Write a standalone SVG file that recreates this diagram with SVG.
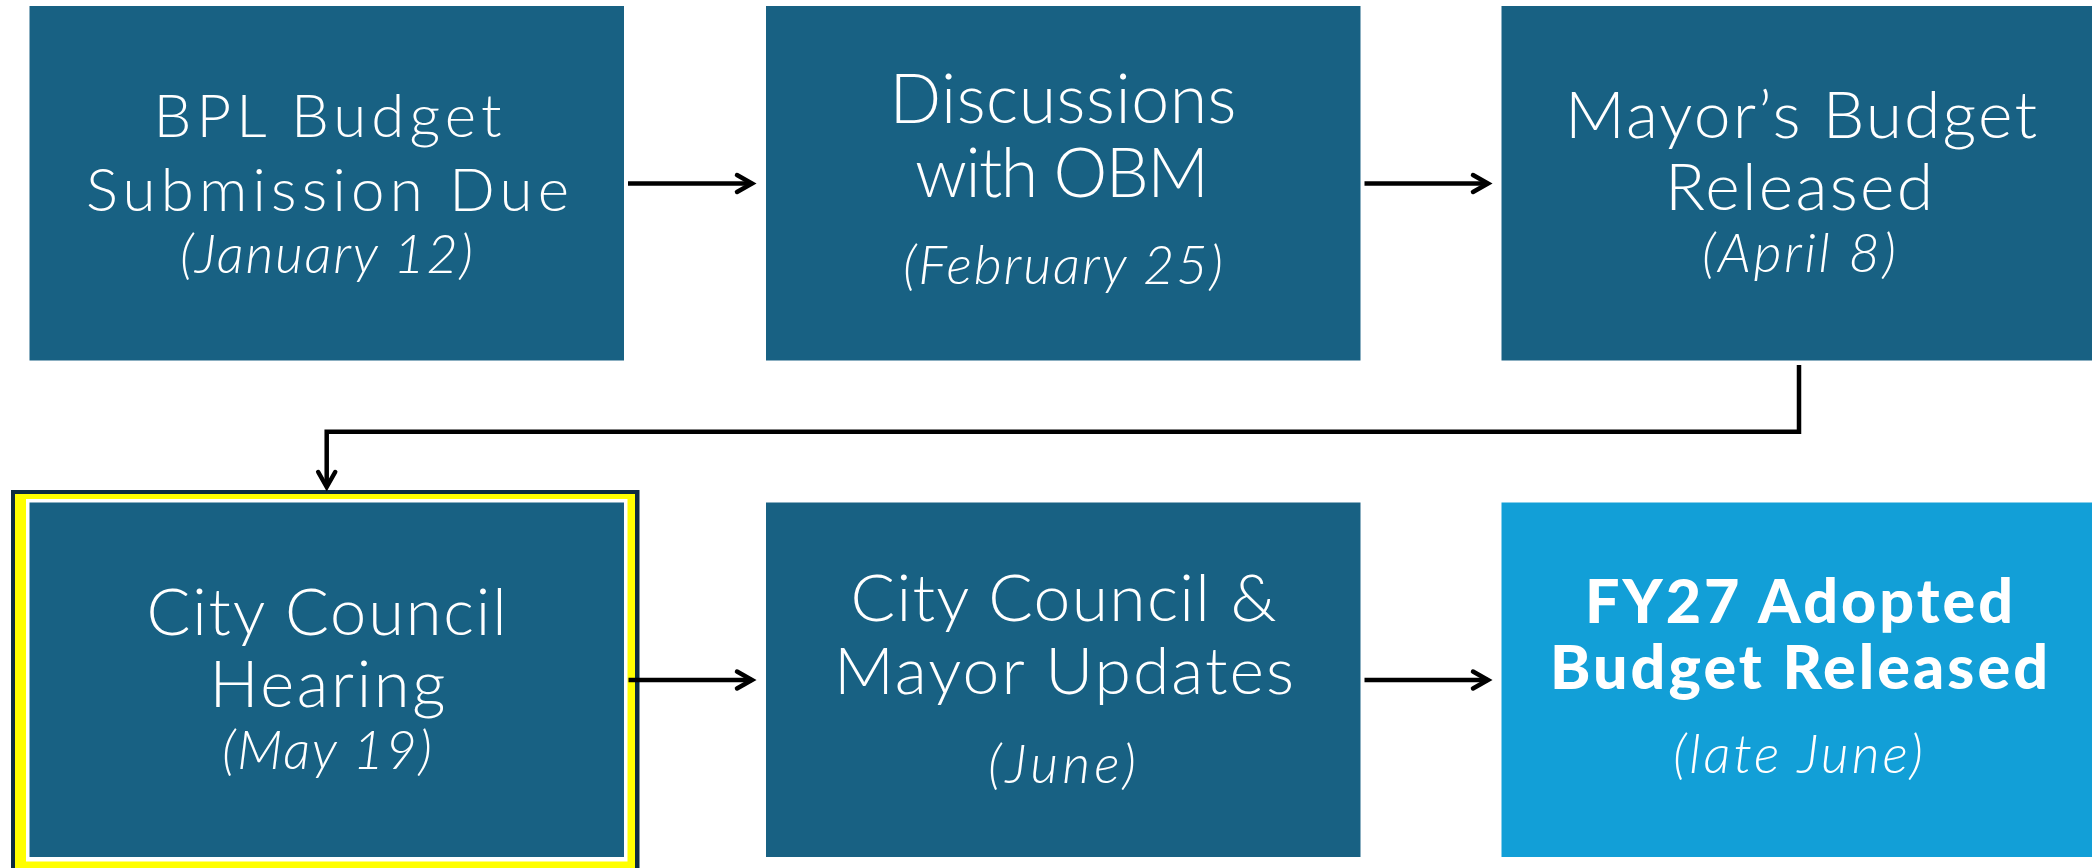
<svg xmlns="http://www.w3.org/2000/svg" width="2092" height="868" viewBox="0 0 2092 868">
  <style>
    .box { fill: #186183; }
    .box-light { fill: #129fd7; }
    .t { fill: #ffffff; font-family: Lato, "Open Sans", "Liberation Sans", sans-serif; font-weight: 300; text-anchor: middle; }
    .d { fill: #ffffff; font-family: Lato, "Open Sans", "Liberation Sans", sans-serif; font-weight: 300; font-style: italic; text-anchor: middle; font-size: 54px; }
    .b { fill: #ffffff; font-family: Lato, "Open Sans", "Liberation Sans", sans-serif; font-weight: 900; text-anchor: middle; font-size: 61px; }
    .conn { fill: none; stroke: #000000; stroke-width: 4.5; marker-end: url(#ah); }
  </style>
  <defs>
    <marker id="ah" markerUnits="userSpaceOnUse" markerWidth="40" markerHeight="40" viewBox="-20 -20 40 40" refX="0" refY="0" orient="auto" overflow="visible">
      <path d="M-15,-8.5 L0,0 L-15,8.5" fill="none" stroke="#000000" stroke-width="4.5" stroke-linejoin="miter" stroke-linecap="round"/>
    </marker>
  </defs>
  <rect width="2092" height="868" fill="#ffffff"/>

  <g id="node-bpl-submission">
    <rect class="box" x="29.5" y="6" width="594.5" height="354.5"/>
    <text class="t" x="327.5" y="137" font-size="60" textLength="348" lengthAdjust="spacing">BPL Budget</text>
    <text class="t" x="327.5" y="211" font-size="60" textLength="483" lengthAdjust="spacing">Submission Due</text>
    <text class="d" x="326.5" y="273" textLength="293" lengthAdjust="spacing">(January 12)</text>
  </g>

  <g id="node-obm-discussions">
    <rect class="box" x="766" y="6" width="594.5" height="354.5"/>
    <text class="t" x="1063" y="123" font-size="68" textLength="347" lengthAdjust="spacing">Discussions</text>
    <text class="t" x="1062" y="197" font-size="68" textLength="294" lengthAdjust="spacing">with OBM</text>
    <text class="d" x="1063" y="284" textLength="320" lengthAdjust="spacing">(February 25)</text>
  </g>

  <g id="node-mayors-budget">
    <rect class="box" x="1501.5" y="6" width="594.5" height="354.5"/>
    <text class="t" x="1801" y="138" font-size="66" textLength="472" lengthAdjust="spacing">Mayor’s Budget</text>
    <text class="t" x="1799" y="210" font-size="66" textLength="268" lengthAdjust="spacing">Released</text>
    <text class="d" x="1799" y="272" textLength="194" lengthAdjust="spacing">(April 8)</text>
  </g>

  <g id="node-council-hearing">
    <rect x="11" y="490" width="628.5" height="390" fill="#0d2c40"/>
    <rect x="15" y="494" width="620" height="380" fill="#ffff00"/>
    <rect x="26" y="499" width="601.5" height="362.5" fill="#ffffff"/>
    <rect class="box" x="29.5" y="502.5" width="594.5" height="354.5"/>
    <text class="t" x="326.5" y="635" font-size="65" textLength="360" lengthAdjust="spacing">City Council</text>
    <text class="t" x="327.5" y="707" font-size="65" textLength="236" lengthAdjust="spacing">Hearing</text>
    <text class="d" x="327" y="769" textLength="210" lengthAdjust="spacing">(May 19)</text>
  </g>

  <g id="node-council-mayor-updates">
    <rect class="box" x="766" y="502.5" width="594.5" height="354.5"/>
    <text class="t" x="1063.5" y="621" font-size="66" textLength="426" lengthAdjust="spacing">City Council &amp;</text>
    <text class="t" x="1064" y="694" font-size="66" textLength="460" lengthAdjust="spacing">Mayor Updates</text>
    <text class="d" x="1062" y="783" textLength="148" lengthAdjust="spacing">(June)</text>
  </g>

  <g id="node-adopted-budget">
    <rect class="box-light" x="1501.5" y="502.5" width="594.5" height="354.5"/>
    <text class="b" x="1799" y="623" textLength="428" lengthAdjust="spacing">FY27 Adopted</text>
    <text class="b" x="1799" y="689" textLength="498" lengthAdjust="spacing">Budget Released</text>
    <text class="d" x="1798" y="773" textLength="250" lengthAdjust="spacing">(late June)</text>
  </g>

  <g id="connectors">
    <path class="conn" d="M628,183.5 H752"/>
    <path class="conn" d="M1364.5,183.5 H1488"/>
    <path class="conn" d="M1799,365 V431.7 H326.7 V487"/>
    <path class="conn" d="M628.5,680 H752"/>
    <path class="conn" d="M1364.5,680 H1488"/>
  </g>
</svg>
